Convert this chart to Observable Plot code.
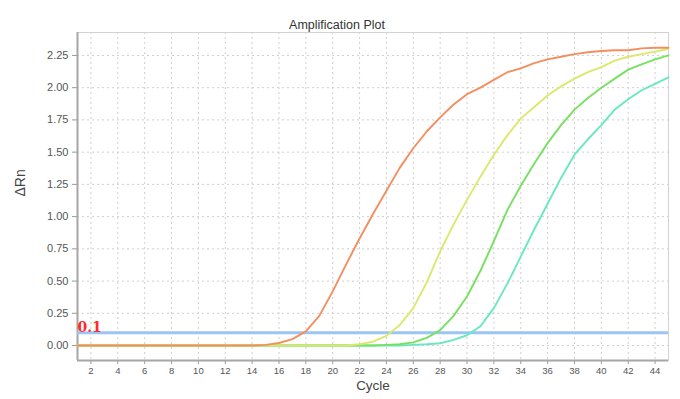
<!DOCTYPE html>
<html><head><meta charset="utf-8">
<script src="https://cdn.jsdelivr.net/npm/d3@7"></script>
<script src="https://cdn.jsdelivr.net/npm/@observablehq/plot@0.6"></script>
<style>body{margin:0;background:#fff;}</style>
</head><body><div id="chart"></div>
<script>
const title = "Amplification Plot";
const xLabel = "Cycle";
const yLabel = "ΔRn";
const cycles = [1,2,3,4,5,6,7,8,9,10,11,12,13,14,15,16,17,18,19,20,21,22,23,24,25,26,27,28,29,30,31,32,33,34,35,36,37,38,39,40,41,42,43,44,45];
const xTicks = [2,4,6,8,10,12,14,16,18,20,22,24,26,28,30,32,34,36,38,40,42,44];
const yTicks = [0,0.25,0.5,0.75,1,1.25,1.5,1.75,2,2.25];
const threshold = 0.1;
const thresholdLabel = "0.1";
const seriesNames = ["Sample A","Sample B","Sample C","Sample D"];
const seriesColors = ["#f58e5f","#dce86c","#78e060","#68e8c0"];
const sampleA = [0,0,0,0,0,0,0,0,0,0,0,0,0,0,0.005,0.02,0.05,0.11,0.23,0.42,0.63,0.83,1.02,1.20,1.38,1.53,1.66,1.77,1.87,1.95,2.00,2.06,2.12,2.15,2.19,2.22,2.24,2.26,2.275,2.285,2.29,2.29,2.305,2.31,2.31];
const sampleB = [0,0,0,0,0,0,0,0,0,0,0,0,0,0,0,0,0,0,0,0,0,0.01,0.03,0.075,0.16,0.29,0.49,0.73,0.94,1.13,1.31,1.48,1.63,1.76,1.85,1.94,2.01,2.07,2.12,2.16,2.21,2.24,2.26,2.28,2.30];
const sampleC = [0,0,0,0,0,0,0,0,0,0,0,0,0,0,0,0,0,0,0,0,0,0,0,0.005,0.01,0.025,0.06,0.12,0.23,0.38,0.58,0.81,1.05,1.24,1.41,1.57,1.71,1.83,1.92,2.00,2.07,2.14,2.18,2.22,2.25];
const sampleD = [0,0,0,0,0,0,0,0,0,0,0,0,0,0,0,0,0,0,0,0,0,0,0,0,0,0.005,0.01,0.018,0.044,0.08,0.15,0.29,0.48,0.69,0.90,1.10,1.30,1.48,1.60,1.71,1.83,1.91,1.98,2.03,2.08];

const seriesValues = [sampleA, sampleB, sampleC, sampleD];
// one line mark per series, latest series drawn first so the earliest curve ends on top
const lineMarks = [];
for (let s = seriesNames.length - 1; s >= 0; s--) {
  const rows = seriesValues[s].map((v, i) => ({cycle: cycles[i], value: v, name: seriesNames[s]}));
  lineMarks.push(Plot.line(rows, {x: "cycle", y: "value", stroke: "name", strokeWidth: 1.9}));
}

const chart = Plot.plot({
  width: 680, height: 399,
  marginLeft: 77, marginRight: 12, marginTop: 32, marginBottom: 39,
  style: {fontFamily: "'Liberation Sans', Arial, sans-serif", background: "#fff", overflow: "visible"},
  x: {domain: [1, 45]},
  y: {domain: [-0.116, 2.428]},
  color: {domain: seriesNames, range: seriesColors},
  marks: [
    Plot.gridX(xTicks, {stroke: "#cfcfcf", strokeOpacity: 1, strokeDasharray: "2,3"}),
    Plot.gridY(yTicks, {stroke: "#cfcfcf", strokeOpacity: 1, strokeDasharray: "2,3"}),
    Plot.frame({stroke: "#d2d2d2"}),
    Plot.axisX(xTicks, {tickSize: 4, tickPadding: 3, fontSize: 9.5, fill: "#555", stroke: "#999", label: null}),
    Plot.axisY(yTicks, {tickSize: 5, tickPadding: 4, fontSize: 11, fill: "#555", stroke: "#999", tickFormat: d3.format(".2f"), label: null}),
    Plot.ruleX([1], {stroke: "#a6a6a6", strokeWidth: 2}),
    Plot.ruleY([-0.116], {stroke: "#a6a6a6", strokeWidth: 2}),
    Plot.ruleY([threshold], {stroke: "#9cc5f6", strokeWidth: 3}),
    ...lineMarks,
    Plot.text([thresholdLabel], {x: 1, y: threshold, text: d => d, textAnchor: "start", lineAnchor: "bottom", dy: -1, fill: "#ff2a2a", fontWeight: "bold", fontFamily: "'DejaVu Serif', serif", fontSize: 14}),
    Plot.text([title], {frameAnchor: "top", dx: -36, dy: -12, fontSize: 12.5, fill: "#333"}),
    Plot.text([xLabel], {frameAnchor: "bottom", dy: 29, fontSize: 13.5, fill: "#444"}),
    Plot.text([yLabel], {frameAnchor: "left", dx: -57, rotate: -90, fontSize: 14, fill: "#444"})
  ]
});
document.getElementById("chart").append(chart);
</script>
</body></html>
